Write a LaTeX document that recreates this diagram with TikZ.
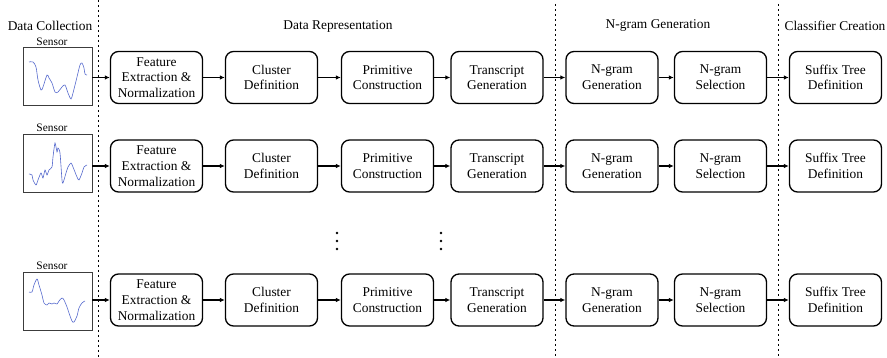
\documentclass[tikz,border=0pt]{standalone}
\usepackage{fontspec}
\setmainfont{Liberation Serif}
\usetikzlibrary{arrows.meta}
\definecolor{sigblue}{RGB}{85,105,205}
\definecolor{sensframe}{RGB}{60,60,60}
\begin{document}
\begin{tikzpicture}[x=1pt,y=-1pt,
  proc/.style={draw, line width=1.3pt, rounded corners=8pt, minimum width=92pt, minimum height=52pt, align=center, inner sep=1pt, font=\fontsize{13.4}{15.7}\selectfont},
  sens/.style={draw=sensframe, line width=0.9pt, minimum width=69pt, minimum height=58pt, inner sep=0pt},
  hdr/.style={font=\fontsize{13.4}{15.7}\selectfont, inner sep=0pt},
  slbl/.style={font=\fontsize{11.4}{13}\selectfont, inner sep=0pt},
  flow/.style={line width=1.2pt, -{Latex[length=5pt,width=4.5pt]}},
  sepline/.style={line width=0.9pt, dash pattern=on 2.5pt off 2.5pt},
  sigline/.style={draw=sigblue, line width=0.6pt}]
\useasboundingbox (0,0) rectangle (887,358);

% separators
\draw[sepline] (98,0) -- (98,358);
\draw[sepline] (555,4) -- (555,358);
\draw[sepline] (778,4) -- (778,358);

% headers
\node[hdr] (h1) at (50,26) {Data Collection};
\node[hdr] (h2) at (338,26) {Data Representation};
\node[hdr] (h3) at (658,26) {N-gram Generation};
\node[hdr] (h4) at (835,26) {Classifier Creation};

% sensor boxes
\node[sens] (s1) at (57.5,76) {};
\node[sens] (s2) at (57.5,163) {};
\node[sens] (s3) at (57.5,301) {};
\node[slbl] (l1) at (52,42) {Sensor};
\node[slbl] (l2) at (52,128) {Sensor};
\node[slbl] (l3) at (52,266) {Sensor};

% signals
\draw[sigline] plot[smooth, tension=0.5] coordinates {(29,62) (33,62) (36,67) (38,80) (41,90) (43,87) (47,75) (49,78) (52,83) (55,92) (58,92) (62,87) (65,85) (68,93) (71,99) (73,93) (77,77) (80,65) (82,63) (84,68) (85,74) (87,75)};
\draw[sigline] plot[smooth, tension=0.4] coordinates {(29,174) (32,175) (33,180) (36,185) (38,180) (41,173) (43,178) (45,170) (47,175) (49,170) (52,167) (53,157) (55,143) (57,152) (58,148) (60,153) (62,180) (63,183) (66,173) (68,167) (71,163) (73,167) (77,177) (79,180) (82,173) (84,167) (87,165)};
\draw[sigline] plot[smooth, tension=0.5] coordinates {(29,292) (32,292) (34,285) (37,279) (39,285) (42,295) (44,303) (47,305) (49,303) (52,304) (54,303) (57,304) (59,301) (62,298) (64,300) (67,307) (69,313) (72,321) (74,322) (77,316) (79,308) (82,303) (85,301)};

% rows
\foreach \r/\y in {1/77.5, 2/166, 3/300} {
  \node[proc] (fe\r) at (156.5,\y) {Feature\\Extraction \&\\Normalization};
  \node[proc] (cd\r) at (271.5,\y) {Cluster\\Definition};
  \node[proc] (pc\r) at (387.5,\y) {Primitive\\Construction};
  \node[proc] (tg\r) at (497,\y) {Transcript\\Generation};
  \node[proc] (ng\r) at (612,\y) {N-gram\\Generation};
  \node[proc] (ns\r) at (720.5,\y) {N-gram\\Selection};
  \node[proc] (st\r) at (835.5,\y) {Suffix Tree\\Definition};
  \draw[flow] (s\r.east |- fe\r.west) -- (fe\r.west);
  \draw[flow] (fe\r) -- (cd\r);
  \draw[flow] (cd\r) -- (pc\r);
  \draw[flow] (pc\r) -- (tg\r);
  \draw[flow] (tg\r) -- (ng\r);
  \draw[flow] (ng\r) -- (ns\r);
  \draw[flow] (ns\r) -- (st\r);
}

% vertical ellipses
\foreach \x in {337,441} {
  \foreach \yy in {233,241,249} {
    \fill (\x,\yy) circle (1.3pt);
  }
}
\end{tikzpicture}
\end{document}
